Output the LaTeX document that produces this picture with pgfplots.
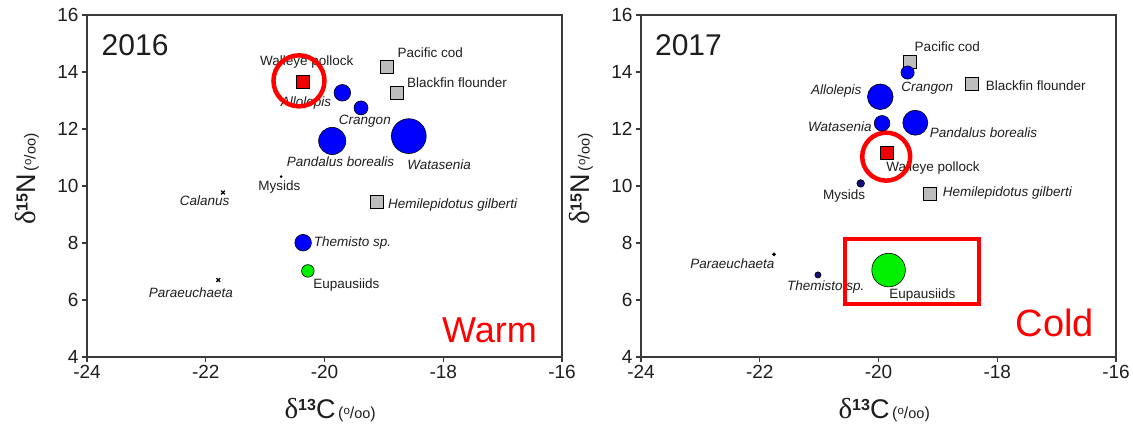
\documentclass[border=0pt]{standalone}
\usepackage{pgfplots}
\pgfplotsset{compat=1.18}
\usepackage{fontspec}
\setmainfont{Liberation Sans}
\newfontfamily\serfont{Liberation Serif}
\definecolor{axgray}{HTML}{3A3A3A}
\definecolor{txt}{HTML}{1E1E1E}
\definecolor{ptblue}{HTML}{0000FF}
\definecolor{ptnavy}{HTML}{10107A}
\definecolor{ptgreen}{HTML}{00F000}
\definecolor{ptred}{HTML}{F00000}
\definecolor{ptgray}{HTML}{BDBDBD}
\definecolor{annred}{HTML}{FF0000}
\newcommand{\lf}{\fontsize{13.5}{15}\selectfont}
\newcommand{\unit}{{\fontsize{16}{18}\selectfont\,(\raisebox{0.5ex}{\fontsize{11.5}{12}\selectfont o}/{\fontsize{14.5}{16}\selectfont oo})}}
\newcommand{\dlt}{{\serfont\fontsize{29}{32}\selectfont δ}}
\newcommand{\isup}[1]{\raisebox{1.5ex}{\fontsize{16}{17}\selectfont\bfseries #1}}
\pgfplotsset{
  panel/.style={
    scale only axis, width=475pt, height=342pt,
    xmin=-24, xmax=-16, ymin=4, ymax=16,
    xtick={-24,-22,-20,-18,-16}, xticklabels={-24,-22,-20,-18,-16},
    ytick={4,6,8,10,12,14,16}, yticklabels={4,6,8,10,12,14,16},
    tick align=outside, tick pos=left, major tick length=5pt,
    axis line style={axgray, line width=1.5pt},
    every tick/.style={axgray, line width=1.2pt},
    tick label style={font=\fontsize{19}{22}\selectfont, text=txt},
    xlabel={\dlt\isup{13}{\fontsize{27}{30}\selectfont C}\unit},
    ylabel={\dlt\isup{15}{\fontsize{27}{30}\selectfont N}\unit},
    xlabel style={at={(axis description cs:0.512,-0.155)}, anchor=center, text=txt},
    ylabel style={at={(axis description cs:-0.126,0.52)}, anchor=center, text=txt},
    clip=false,
  },
  bub/.style={scatter, only marks, mark=*, line width=0.6pt,
    scatter/use mapped color={draw=black, fill=#1},
    visualization depends on={\thisrow{r}\as\rad},
    scatter/@pre marker code/.append style={/tikz/mark size=\rad}},
  sq/.style={only marks, mark=square*, mark size=6.5pt,
    mark options={draw=black, fill=#1, line width=0.6pt}},
}
\begin{document}
\begin{tikzpicture}[x=1pt,y=1pt]
\path[use as bounding box] (0,0) rectangle (1133,427);
% ---------------- 2016 ----------------
\begin{axis}[panel, at={(87pt,70pt)}, anchor=south west]
\addplot[sq=ptgray] table {
x y
-18.95 14.18
-18.78 13.26
-19.12 9.44
};
\addplot[sq=ptred] table {
x y
-20.36 13.64
};
\addplot[bub=ptblue] table {
x y r
-19.70 13.27 8.3
-19.385 12.74 7.0
-19.87 11.58 13.6
-18.58 11.75 17.4
-20.36 8.01 8.3
};
\addplot[bub=ptgreen] table {
x y r
-20.28 7.02 6.3
};
\addplot[only marks, mark=x, mark size=2.6pt, black, line width=1.3pt] table {
x y
-21.71 9.77
-21.79 6.70
};
\addplot[only marks, mark=*, mark size=1.1pt, black] table {
x y
-20.73 10.33
};
\node[font=\lf, text=txt] at (axis cs:-20.30,14.36) {Walleye pollock};
\node[font=\lf\itshape, text=txt] at (axis cs:-20.31,12.90) {Allolepis};
\node[font=\lf\itshape, text=txt] at (axis cs:-19.32,12.28) {Crangon};
\node[font=\lf\itshape, text=txt] at (axis cs:-19.73,10.84) {Pandalus borealis};
\node[font=\lf\itshape, text=txt] at (axis cs:-18.07,10.74) {Watasenia};
\node[font=\lf, text=txt] at (axis cs:-18.22,14.68) {Pacific cod};
\node[font=\lf, text=txt] at (axis cs:-17.77,13.64) {Blackfin flounder};
\node[font=\lf\itshape, text=txt] at (axis cs:-17.84,9.33) {Hemilepidotus gilberti};
\node[font=\lf, text=txt] at (axis cs:-20.76,9.95) {Mysids};
\node[font=\lf\itshape, text=txt] at (axis cs:-22.02,9.48) {Calanus};
\node[font=\lf\itshape, text=txt] at (axis cs:-19.53,8.01) {Themisto sp.};
\node[font=\lf, text=txt] at (axis cs:-19.63,6.53) {Eupausiids};
\node[font=\lf\itshape, text=txt] at (axis cs:-22.25,6.26) {Paraeuchaeta};
\node[font=\fontsize{30}{34}\selectfont, text=txt] at (axis cs:-23.19,14.95) {2016};
\node[font=\fontsize{36}{40}\selectfont, text=annred] at (axis cs:-17.22,4.95) {Warm};
\draw[annred, line width=4.5pt] (axis cs:-20.43,13.69) circle[radius=25.5pt];
\end{axis}
% ---------------- 2017 ----------------
\begin{axis}[panel, at={(641pt,70pt)}, anchor=south west]
\addplot[sq=ptgray] table {
x y
-19.47 14.36
-18.43 13.60
-19.14 9.71
};
\addplot[sq=ptred] table {
x y
-19.86 11.17
};
\addplot[bub=ptblue] table {
x y r
-19.51 13.98 6.6
-19.97 13.13 12.8
-19.94 12.20 7.8
-19.38 12.22 12.5
};
\addplot[bub=ptnavy] table {
x y r
-20.30 10.09 3.8
-21.02 6.88 3.1
};
\addplot[bub=ptgreen] table {
x y r
-19.83 7.05 16.8
};
\addplot[only marks, mark=*, mark size=1.8pt, black] table {
x y
-21.76 7.60
};
\node[font=\lf, text=txt] at (axis cs:-18.84,14.89) {Pacific cod};
\node[font=\lf\itshape, text=txt] at (axis cs:-19.18,13.43) {Crangon};
\node[font=\lf, text=txt] at (axis cs:-17.35,13.52) {Blackfin flounder};
\node[font=\lf\itshape, text=txt] at (axis cs:-20.71,13.34) {Allolepis};
\node[font=\lf\itshape, text=txt] at (axis cs:-20.65,12.08) {Watasenia};
\node[font=\lf\itshape, text=txt] at (axis cs:-18.23,11.87) {Pandalus borealis};
\node[font=\lf, text=txt] at (axis cs:-19.08,10.62) {Walleye pollock};
\node[font=\lf, text=txt] at (axis cs:-20.58,9.65) {Mysids};
\node[font=\lf\itshape, text=txt] at (axis cs:-17.83,9.77) {Hemilepidotus gilberti};
\node[font=\lf\itshape, text=txt] at (axis cs:-22.46,7.29) {Paraeuchaeta};
\node[font=\lf\itshape, text=txt] at (axis cs:-20.89,6.47) {Themisto sp.};
\node[font=\lf, text=txt] at (axis cs:-19.26,6.18) {Eupausiids};
\node[font=\fontsize{30}{34}\selectfont, text=txt] at (axis cs:-23.20,14.95) {2017};
\node[font=\fontsize{38}{42}\selectfont, text=annred] at (axis cs:-17.03,5.18) {Cold};
\draw[annred, line width=4.5pt] (axis cs:-19.87,11.03) circle[radius=24pt];
\draw[annred, line width=4pt] (axis cs:-20.56,8.14) rectangle (axis cs:-18.31,5.86);
\end{axis}
\end{tikzpicture}
\end{document}
